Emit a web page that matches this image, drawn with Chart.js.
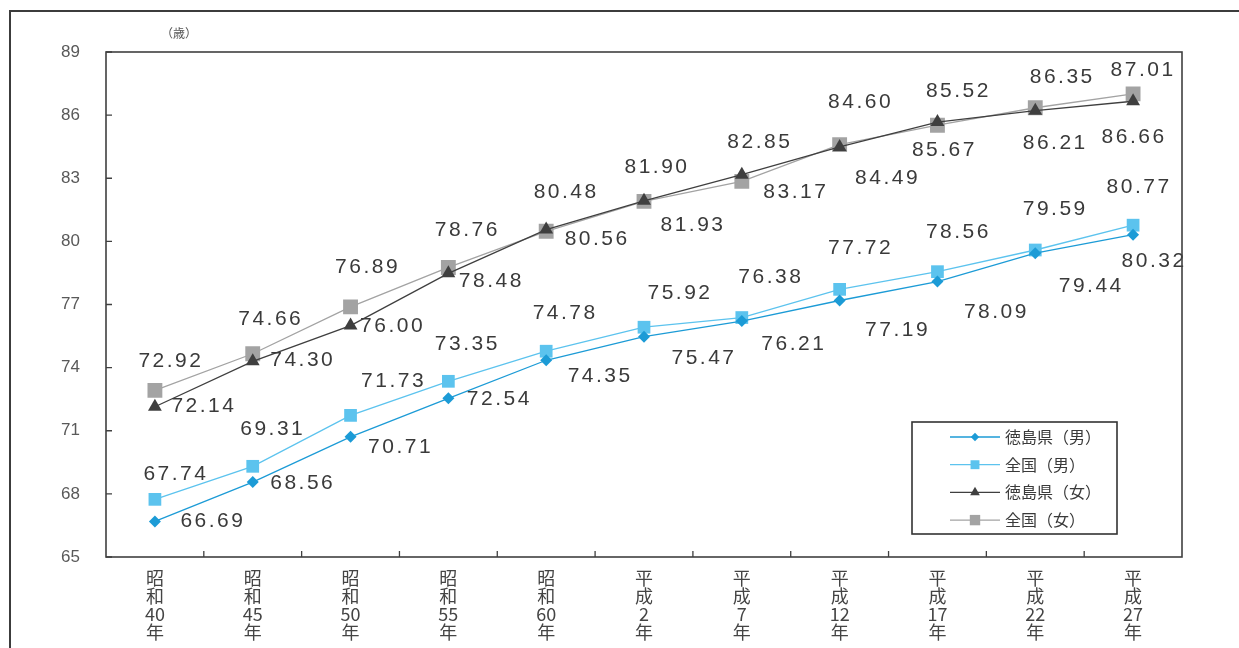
<!DOCTYPE html>
<html>
<head>
<meta charset="utf-8">
<script src="https://cdn.jsdelivr.net/npm/chart.js@4/dist/chart.umd.min.js"></script>
<style>
  html, body { margin: 0; padding: 0; background: #fff; }
  #wrap { width: 1239px; height: 648px; position: relative; }
</style>
</head>
<body>
<div id="wrap"><canvas id="chart"></canvas></div>
<script>
// 平均寿命の推移
const categories = ['昭和40年', '昭和45年', '昭和50年', '昭和55年', '昭和60年', '平成2年', '平成7年', '平成12年', '平成17年', '平成22年', '平成27年'];
const tokushimaMale = [66.69, 68.56, 70.71, 72.54, 74.35, 75.47, 76.21, 77.19, 78.09, 79.44, 80.32];
const nationalMale = [67.74, 69.31, 71.73, 73.35, 74.78, 75.92, 76.38, 77.72, 78.56, 79.59, 80.77];
const tokushimaFemale = [72.14, 74.30, 76.00, 78.48, 80.56, 81.93, 83.17, 84.49, 85.67, 86.21, 86.66];
const nationalFemale = [72.92, 74.66, 76.89, 78.76, 80.48, 81.90, 82.85, 84.60, 85.52, 86.35, 87.01];
const seriesNames = ['徳島県（男）', '全国（男）', '徳島県（女）', '全国（女）'];
const yTicks = [65, 68, 71, 74, 77, 80, 83, 86, 89];
const unitLabel = '（歳）';

// label offsets (px from the point), one list per dataset
const labelOffsets = [
  [[57, 0], [49, 1], [49, 10], [50, 1], [53, 16], [59, 22], [51, 23], [57, 30], [58, 31], [55, 33], [20, 27]],
  [[20, -25], [19, -37], [42, -34], [18, -37], [18, -38], [35, -34], [28, -40], [20, -41], [20, -39], [19, -41], [5, -38]],
  [[48, -1], [49, -1], [41, 1], [42, 8], [50, 10], [48, 24], [53, 18], [47, 31], [6, 28], [19, 32], [0, 36]],
  [[15, -29], [17, -35], [16, -40], [18, -37], [19, -39], [12, -34], [17, -39], [20, -42], [20, -34], [26, -31], [9, -24]]
];

// vertical category text: 昭和40年 -> 昭 / 和 / 40 / 年
const splitLabel = (s) => s.match(/\d+|./g);

const dataLabels = {
  id: 'dataLabels',
  afterDatasetsDraw(chart) {
    const ctx = chart.ctx;
    ctx.save();
    ctx.font = '21px "Liberation Sans", Arial, sans-serif';
    ctx.letterSpacing = '2.5px';
    ctx.fillStyle = '#3a3a3a';
    ctx.textAlign = 'center';
    ctx.textBaseline = 'middle';
    chart.data.datasets.forEach((ds, di) => {
      chart.getDatasetMeta(di).data.forEach((pt, i) => {
        const [dx, dy] = labelOffsets[di][i];
        ctx.fillText(ds.data[i].toFixed(2), pt.x + dx + 1, pt.y + dy);
      });
    });
    ctx.restore();
  }
};

const frame = {
  id: 'frame',
  afterDraw(chart) {
    const ctx = chart.ctx;
    const a = chart.chartArea;
    const xs = chart.scales.x, ys = chart.scales.y;
    ctx.save();
    // outer frame (top and left)
    ctx.strokeStyle = '#3c3c3c';
    ctx.lineWidth = 2;
    ctx.beginPath();
    ctx.moveTo(1239, 11); ctx.lineTo(10, 11); ctx.lineTo(10, 648);
    ctx.stroke();
    // plot box
    ctx.strokeStyle = '#404040';
    ctx.lineWidth = 1.6;
    ctx.strokeRect(a.left, a.top, a.right - a.left, a.bottom - a.top);
    // inward ticks
    ctx.lineWidth = 1.3;
    ctx.beginPath();
    yTicks.forEach(v => {
      const y = ys.getPixelForValue(v);
      ctx.moveTo(a.left, y); ctx.lineTo(a.left + 6, y);
    });
    for (let i = 0; i < categories.length - 1; i++) {
      const x = (xs.getPixelForValue(i) + xs.getPixelForValue(i + 1)) / 2;
      ctx.moveTo(x, a.bottom); ctx.lineTo(x, a.bottom - 6);
    }
    ctx.stroke();
    // unit
    ctx.font = '12px "Noto Sans CJK JP", sans-serif';
    ctx.fillStyle = '#555';
    ctx.textAlign = 'center';
    ctx.textBaseline = 'middle';
    ctx.fillText(unitLabel, 179, 33);

    // legend box
    const lx = 912, ly = 422, lw = 205, lh = 112;
    ctx.fillStyle = '#fff';
    ctx.fillRect(lx, ly, lw, lh);
    ctx.strokeStyle = '#333';
    ctx.lineWidth = 1.6;
    ctx.strokeRect(lx, ly, lw, lh);
    chart.data.datasets.forEach((ds, di) => {
      const y = ly + 15 + di * 27.7;
      ctx.strokeStyle = ds.borderColor;
      ctx.lineWidth = ds.borderWidth;
      ctx.beginPath();
      ctx.moveTo(950, y); ctx.lineTo(1000, y);
      ctx.stroke();
      ctx.fillStyle = ds.pointBackgroundColor;
      Chart.helpers.drawPoint(ctx, {
        pointStyle: ds.pointStyle, rotation: 0, borderWidth: 0,
        radius: ds.pointRadius * 0.7
      }, 975, y);
      ctx.fillStyle = '#3a3a3a';
      ctx.font = '16px "Noto Sans CJK JP", sans-serif';
      ctx.textAlign = 'left';
      ctx.fillText(ds.label, 1005, y);
    });
    ctx.restore();
  }
};

new Chart(document.getElementById('chart').getContext('2d'), {
  type: 'line',
  data: {
    labels: categories.map(splitLabel),
    datasets: [
      {
        label: seriesNames[0],
        data: tokushimaMale,
        borderColor: '#1c9bd6',
        backgroundColor: '#1c9bd6',
        pointBackgroundColor: '#1c9bd6',
        borderWidth: 1.3,
        pointStyle: 'rectRot',
        pointRadius: 6,
        pointBorderWidth: 0,
        tension: 0,
      },
      {
        label: seriesNames[1],
        data: nationalMale,
        borderColor: '#5cc3ee',
        backgroundColor: '#5cc3ee',
        pointBackgroundColor: '#5cc3ee',
        borderWidth: 1.3,
        pointStyle: 'rect',
        pointRadius: 9,
        pointBorderWidth: 0,
        tension: 0,
      },
      {
        label: seriesNames[2],
        data: tokushimaFemale,
        borderColor: '#3f3f3f',
        backgroundColor: '#3f3f3f',
        pointBackgroundColor: '#3f3f3f',
        borderWidth: 1.3,
        pointStyle: 'triangle',
        pointRadius: 8,
        pointBorderWidth: 0,
        tension: 0,
      },
      {
        label: seriesNames[3],
        data: nationalFemale,
        borderColor: '#a3a3a3',
        backgroundColor: '#a3a3a3',
        pointBackgroundColor: '#a3a3a3',
        borderWidth: 1.3,
        pointStyle: 'rect',
        pointRadius: 10.5,
        pointBorderWidth: 0,
        tension: 0,
      },
    ],
  },
  options: {
    responsive: true,
    maintainAspectRatio: false,
    animation: false,
    layout: { padding: { top: 52, right: 57, left: 0, bottom: 0 } },
    plugins: { legend: { display: false }, tooltip: { enabled: false } },
    scales: {
      x: {
        offset: true,
        grid: { display: false },
        border: { display: false },
        ticks: {
          color: '#444',
          font: { size: 18, family: '"Noto Sans CJK JP", sans-serif', lineHeight: 1.0 },
          padding: 4,
          maxRotation: 0,
          autoSkip: false,
        },
        afterFit: (s) => { s.height = 91; },
      },
      y: {
        min: 65,
        max: 89,
        grid: { display: false, drawTicks: false },
        border: { display: false },
        afterBuildTicks: (s) => { s.ticks = yTicks.map(v => ({ value: v })); },
        ticks: {
          color: '#595959',
          font: { size: 17, family: '"Liberation Sans", Arial, sans-serif' },
          padding: 26,
        },
        afterFit: (s) => { s.width = 106; },
      },
    },
  },
  plugins: [dataLabels, frame],
});
</script>
</body>
</html>
